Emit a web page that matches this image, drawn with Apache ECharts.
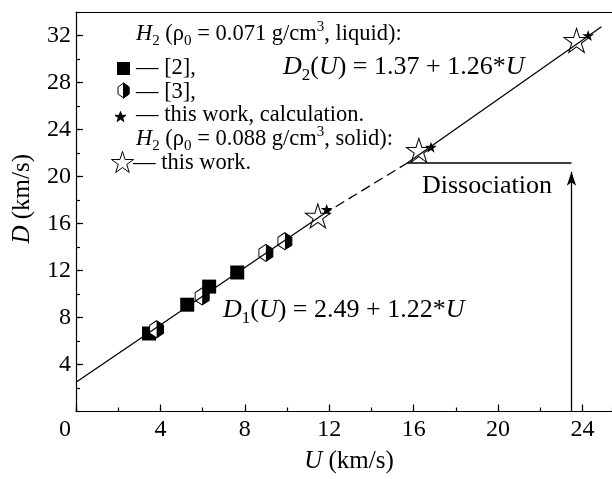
<!DOCTYPE html>
<html>
<head>
<meta charset="utf-8">
<script src="https://cdn.jsdelivr.net/npm/echarts@6/dist/echarts.min.js"></script>
<style>
  html, body { margin: 0; padding: 0; background: #fff; }
  #chart { width: 612px; height: 479px; }
</style>
</head>
<body>
<div id="chart"></div>
<script>
// ---- data (U, D in km/s) ----
const ref2Points = [[3.46, 6.64], [5.27, 9.09], [6.31, 10.63], [7.64, 11.83]];       // ■ [2]
const ref3Points = [[3.82, 7.0], [5.98, 9.79], [9.0, 13.5], [9.9, 14.49]];           // half hexagon [3]
const calcPoints = [[11.88, 17.2], [16.82, 22.5], [24.27, 32.0]];                    // ★ calculation
const solidPoints = [[11.46, 16.64], [16.25, 22.23], [23.72, 31.58]];                // ☆ solid H2
const fitLine1 = [[0, 2.49], [11.7, 16.76]];        // D1(U) = 2.49 + 1.22*U
const fitDashed = [[11.7, 16.76], [15.7, 21.15]];
const fitLine2 = [[15.7, 21.15], [24.9, 32.74]];    // D2(U) = 1.37 + 1.26*U
const dissocLine = [[15.7, 21.15], [23.48, 21.15]];
const dissocArrow = [[23.48, 0], [23.48, 20.4]];
const xTicks = { min: 0, max: 25.4, major: 4, minor: 2 };
const yTicks = { min: 0, max: 34, major: 4, minor: 2 };

const FONT = "Liberation Serif";
// marker outlines in a 0..100 box
const STAR_PTS = [[50,0],[61.23,34.55],[97.55,34.55],[68.17,55.9],[79.39,90.45],[50,69.1],[20.61,90.45],[31.83,55.9],[2.45,34.55],[38.77,34.55]];
const HEX_PTS = [[50,0],[100,27],[100,73],[50,100],[0,73],[0,27]];
const HALF_PTS = [[0,0],[50,27],[50,73],[0,100]];
const toPath = pts => "path://M" + pts.map(p => p.join(",")).join(" L") + " Z";
const STAR = toPath(STAR_PTS), HEX = toPath(HEX_PTS), HEX_HALF = toPath(HALF_PTS);

const chart = echarts.init(document.getElementById("chart"));

// rich styles for sub/superscripts
function richSet(size, lh) {
  return {
    i: { fontFamily: FONT, fontSize: size, fontStyle: "italic", lineHeight: lh },
    n: { fontFamily: FONT, fontSize: size, lineHeight: lh },
    sub: { fontFamily: FONT, fontSize: Math.round(size * 0.65), verticalAlign: "bottom", lineHeight: lh },
    sup: { fontFamily: FONT, fontSize: Math.round(size * 0.65), verticalAlign: "top", lineHeight: lh },
    z: { fontFamily: FONT, fontSize: size, padding: [0, 22, 0, 0] },
  };
}

function txt(x, y, text, size) {
  return {
    type: "text", x: x, y: y, silent: true,
    style: { text: text, rich: richSet(size, Math.round(size * 1.3)), fill: "#000",
      font: size + "px " + FONT, verticalAlign: "middle", align: "left" },
  };
}
// legend glyph: outline scaled into a w x h box centred on (cx, cy)
function icon(pts, cx, cy, w, h, fill) {
  let xs = pts.map(p => p[0]), ys = pts.map(p => p[1]);
  let x0 = Math.min(...xs), x1 = Math.max(...xs), y0 = Math.min(...ys), y1 = Math.max(...ys);
  return {
    type: "polygon", silent: true,
    shape: { points: pts.map(p => [cx - w / 2 + (p[0] - x0) / (x1 - x0) * w, cy - h / 2 + (p[1] - y0) / (y1 - y0) * h]) },
    style: { fill: fill, stroke: "#000", lineWidth: 1 },
  };
}

const axisBase = {
  type: "value", splitLine: { show: false },
  axisLine: { show: true, onZero: false, lineStyle: { color: "#000", width: 1.2 } },
};
const LINE = { color: "#000", width: 1.3 };

const option = {
  backgroundColor: "#fff",
  animation: false,
  grid: { left: 76, right: 0, top: 12, bottom: 60 },
  xAxis: [
    Object.assign({}, axisBase, {
      position: "bottom", min: xTicks.min, max: xTicks.max, interval: xTicks.major,
      axisTick: { inside: true, length: 7, lineStyle: { color: "#000", width: 1.2 } },
      axisLabel: {
        color: "#000", fontFamily: FONT, fontSize: 24, margin: 6, showMaxLabel: false,
        formatter: v => (v === 0 ? "{z|0}" : String(v)), rich: richSet(24, 24),
      },
      name: "{i|U} (km/s)", nameLocation: "middle", nameGap: 36,
      nameTextStyle: { fontFamily: FONT, fontSize: 25, color: "#000", rich: richSet(25, 28), padding: [0, 0, 0, 10] },
    }),
    Object.assign({}, axisBase, {
      position: "bottom", min: xTicks.min, max: xTicks.max, interval: xTicks.minor,
      axisLine: { show: false }, axisLabel: { show: false },
      axisTick: { inside: true, length: 4, lineStyle: { color: "#000", width: 1.2 } },
    }),
    Object.assign({}, axisBase, {
      position: "top", min: xTicks.min, max: xTicks.max,
      axisTick: { show: false }, axisLabel: { show: false },
    }),
  ],
  yAxis: [
    Object.assign({}, axisBase, {
      position: "left", min: yTicks.min, max: yTicks.max, interval: yTicks.major,
      axisTick: { inside: true, length: 7, lineStyle: { color: "#000", width: 1.2 } },
      axisLabel: { color: "#000", fontFamily: FONT, fontSize: 24, margin: 5, showMinLabel: false, showMaxLabel: false },
      name: "{i|D} (km/s)", nameLocation: "middle", nameGap: 40, nameRotate: 90,
      nameTextStyle: { fontFamily: FONT, fontSize: 25, color: "#000", rich: richSet(25, 28), padding: [0, 0, 0, 26] },
    }),
    Object.assign({}, axisBase, {
      position: "left", min: yTicks.min, max: yTicks.max, interval: yTicks.minor,
      axisLine: { show: false }, axisLabel: { show: false },
      axisTick: { inside: true, length: 4, lineStyle: { color: "#000", width: 1.2 } },
    }),
  ],
  series: [
    { type: "line", data: fitLine1, symbol: "none", lineStyle: LINE },
    { type: "line", data: fitDashed, symbol: "none", lineStyle: Object.assign({ type: [10, 5] }, LINE) },
    { type: "line", data: fitLine2, symbol: "none", lineStyle: LINE },
    {
      type: "line", data: dissocLine, symbol: "none", lineStyle: LINE,
      markLine: {
        silent: true, label: { show: false }, lineStyle: Object.assign({ type: "solid" }, LINE),
        data: [[{ coord: dissocArrow[0], symbol: "none" }, { coord: dissocArrow[1], symbol: "arrow", symbolSize: [7, 14] }]],
      },
    },
    { type: "scatter", data: ref2Points, symbol: "rect", symbolSize: 14, itemStyle: { color: "#000", opacity: 1 } },
    { type: "scatter", data: ref3Points, symbol: HEX, symbolSize: [14, 17],
      itemStyle: { color: "#fff", borderColor: "#000", borderWidth: 1, opacity: 1 } },
    { type: "scatter", data: ref3Points, symbol: HEX_HALF, symbolSize: [7, 17], symbolOffset: [3.5, 0],
      itemStyle: { color: "#000", opacity: 1 } },
    { type: "scatter", data: calcPoints, symbol: STAR, symbolSize: [12, 11], itemStyle: { color: "#000", opacity: 1 } },
    { type: "scatter", data: solidPoints, symbol: STAR, symbolSize: [25, 24],
      itemStyle: { color: "#fff", borderColor: "#000", borderWidth: 1, opacity: 1 } },
  ],
  graphic: [
    // legend block
    txt(136, 34, "{i|H}{sub|2} {n|(ρ}{sub|0}{n| = 0.071 g/cm}{sup|3}{n|, liquid):}", 22.5),
    { type: "rect", silent: true, shape: { x: 117, y: 62, width: 13, height: 13 }, style: { fill: "#000" } },
    txt(136, 68, "— [2],", 22.5),
    icon(HEX_PTS, 123.5, 90.5, 11, 15, "#fff"),
    icon(HALF_PTS, 126.25, 90.5, 5.5, 15, "#000"),
    txt(136, 92, "— [3],", 22.5),
    icon(STAR_PTS, 120.5, 116.5, 11, 10, "#000"),
    txt(136, 115, "— this work, calculation.", 22.5),
    txt(136, 139, "{i|H}{sub|2} {n|(ρ}{sub|0}{n| = 0.088 g/cm}{sup|3}{n|, solid):}", 22.5),
    icon(STAR_PTS, 122.5, 162, 22, 21, "#fff"),
    txt(133, 163, "— this work.", 22.5),
    // fitted equations and annotation
    txt(283, 67, "{i|D}{sub|2}{n|(}{i|U}{n|) = 1.37 + 1.26*}{i|U}", 26),
    txt(223, 310, "{i|D}{sub|1}{n|(}{i|U}{n|) = 2.49 + 1.22*}{i|U}", 26),
    txt(422, 186, "Dissociation", 26),
  ],
};
chart.setOption(option);
</script>
</body>
</html>
